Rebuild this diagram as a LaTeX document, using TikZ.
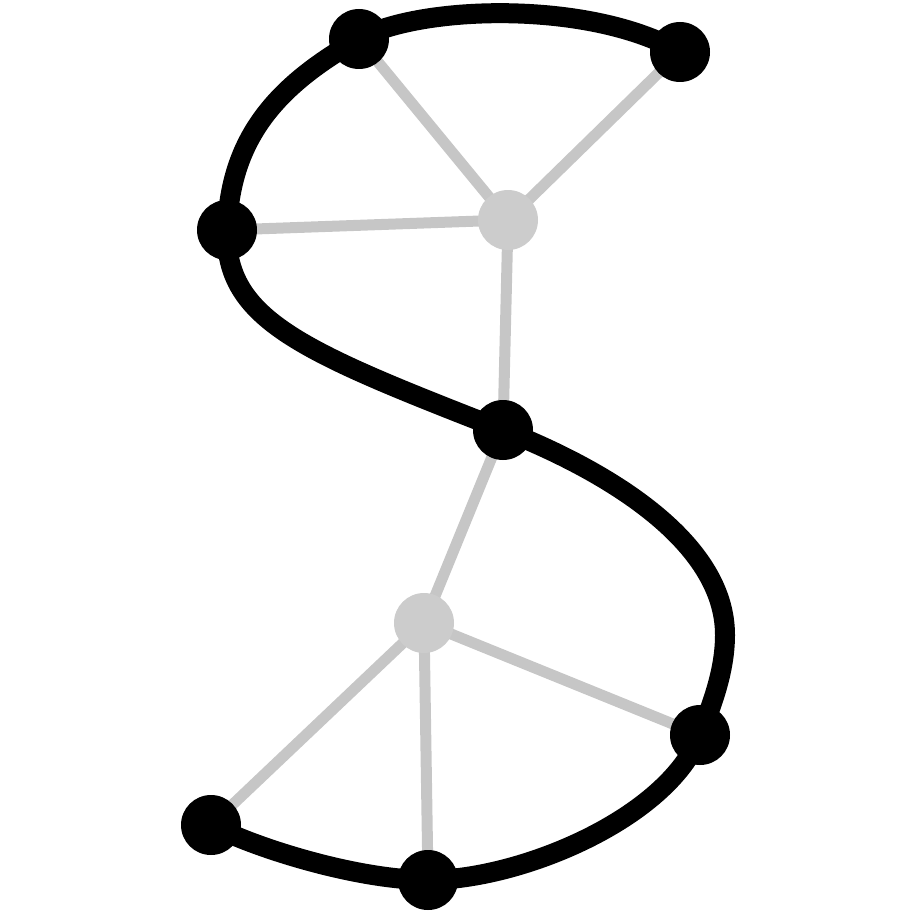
\documentclass[tikz,border=0pt]{standalone}
\usetikzlibrary{calc}
\definecolor{nodegray}{RGB}{204,204,204}
\definecolor{linegray}{RGB}{198,198,198}
\tikzset{
  blk/.style={circle, fill=black, inner sep=0pt, minimum size=60pt},
  gry/.style={circle, fill=nodegray, inner sep=0pt, minimum size=60pt},
  spoke/.style={draw=linegray, line width=11pt},
  spine/.style={draw=black, line width=20pt, line cap=round, line join=round}
}
\begin{document}
\begin{tikzpicture}[x=1pt,y=-1pt]
\useasboundingbox (0,0) rectangle (912,912);
% coordinates
\coordinate (a) at (680,52);
\coordinate (b) at (359,39);
\coordinate (c) at (227,230);
\coordinate (d) at (503,430);
\coordinate (p) at (725,635);
\coordinate (e) at (700,735);
\coordinate (f) at (428,880);
\coordinate (g) at (211,825);
\coordinate (h) at (508,220);
\coordinate (i) at (424,623);
% gray spokes
\draw[spoke] (h) -- (b);
\draw[spoke] (h) -- (a);
\draw[spoke] (h) -- (c);
\draw[spoke] (h) -- (d);
\draw[spoke] (i) -- (d);
\draw[spoke] (i) -- (e);
\draw[spoke] (i) -- (f);
\draw[spoke] (i) -- (g);
% black spine
\draw[spine] (a) .. controls (590,0) and (420,5) .. (b)
  .. controls (274,87) and (230,140) .. (c)
  .. controls (224,320) and (303,352) .. (d)
  .. controls (603,469) and (725,540) .. (p)
  .. controls (725,672) and (711,707) .. (e)
  .. controls (667,819) and (520,880) .. (f)
  .. controls (360,880) and (260,850) .. (g);
% nodes
\node[gry] (H) at (h) {};
\node[gry] (I) at (i) {};
\node[blk] (A) at (a) {};
\node[blk] (B) at (b) {};
\node[blk] (C) at (c) {};
\node[blk] (D) at (d) {};
\node[blk] (E) at (e) {};
\node[blk] (F) at (f) {};
\node[blk] (G) at (g) {};
\end{tikzpicture}
\end{document}
